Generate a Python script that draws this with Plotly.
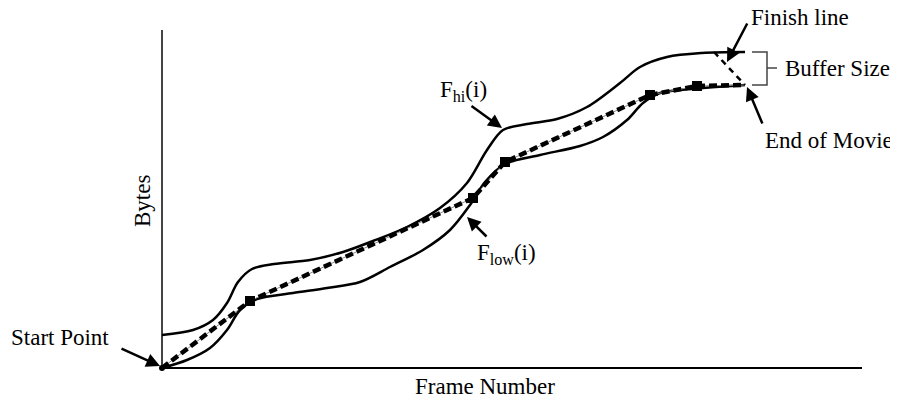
import plotly.graph_objects as go

# curve data (frame number, bytes) in arbitrary units
hi_frames = [0, 31, 51, 65, 76, 90, 112, 148, 181, 211, 245, 278, 305, 325, 341,
             365, 395, 425, 458, 478, 505, 540, 583]
hi_bytes = [33, 38, 48, 65, 86, 99, 104, 108, 116, 127, 141, 160, 185, 218, 238,
            244, 249, 261, 285, 301, 311, 315, 316]

low_frames = [0, 25, 48, 65, 78, 95, 131, 165, 198, 228, 261, 288, 308, 323, 343,
              378, 418, 441, 465, 481, 498, 530, 583]
low_bytes = [0, 8, 20, 38, 58, 69, 75, 80, 86, 101, 118, 138, 163, 186, 204,
             213, 222, 231, 248, 265, 275, 279, 283]

sched_frames = [0, 88, 311, 343, 488, 535, 583]
sched_bytes = [0, 67, 170, 206, 273, 282, 283]

finish_frames = [552, 583]
finish_bytes = [316, 283]

bracket_frames = [590, 605, 605, 590]
bracket_bytes = [316, 316, 283, 283]
tick_frames = [605, 615]
tick_bytes = [300, 300]

FONT = "Liberation Serif"

fig = go.Figure()

# axes
fig.add_trace(go.Scatter(x=[0, 0], y=[0, 338], mode="lines",
                         line=dict(color="#444", width=2), showlegend=False, hoverinfo="skip"))
fig.add_trace(go.Scatter(x=[0, 700], y=[0, 0], mode="lines",
                         line=dict(color="black", width=2), showlegend=False, hoverinfo="skip"))

# bounds
fig.add_trace(go.Scatter(x=hi_frames, y=hi_bytes, mode="lines", line_shape="spline",
                         line=dict(color="black", width=2.5, smoothing=0.9), showlegend=False))
fig.add_trace(go.Scatter(x=low_frames, y=low_bytes, mode="lines", line_shape="spline",
                         line=dict(color="black", width=2.5, smoothing=0.9), showlegend=False))

# schedule: thin line under thick dashes
fig.add_trace(go.Scatter(x=sched_frames, y=sched_bytes, mode="lines",
                         line=dict(color="#888", width=1), showlegend=False))
fig.add_trace(go.Scatter(x=sched_frames, y=sched_bytes, mode="lines",
                         line=dict(color="black", width=4.5, dash="8px,4px"), showlegend=False))
fig.add_trace(go.Scatter(x=sched_frames[1:-1], y=sched_bytes[1:-1], mode="markers",
                         marker=dict(symbol="square", size=10, color="black"), showlegend=False))
fig.add_trace(go.Scatter(x=sched_frames[:1], y=sched_bytes[:1], mode="markers",
                         marker=dict(symbol="circle", size=6, color="black"), showlegend=False))

# finish line and buffer bracket
fig.add_trace(go.Scatter(x=finish_frames, y=finish_bytes, mode="lines",
                         line=dict(color="black", width=2.5, dash="6px,5px"), showlegend=False))
fig.add_trace(go.Scatter(x=bracket_frames, y=bracket_bytes, mode="lines",
                         line=dict(color="#444", width=1.5), showlegend=False))
fig.add_trace(go.Scatter(x=tick_frames, y=tick_bytes, mode="lines",
                         line=dict(color="#444", width=1.5), showlegend=False))

labels = [
    ("Bytes", -20, 167, -90),
    ("Frame Number", 323, -18, 0),
    ("Start Point", -102, 31, 0),
    ("F<sub>hi</sub>(i)", 301, 277, 0),
    ("F<sub>low</sub>(i)", 344, 114, 0),
    ("Finish line", 638, 351, 0),
    ("Buffer Size", 675, 300, 0),
    ("End of Movie", 667, 228, 0),
]
for txt, x, y, ang in labels:
    fig.add_annotation(x=x, y=y, text=txt, showarrow=False, textangle=ang,
                       font=dict(family=FONT, size=23, color="black"))

arrows = [
    (-2, 2, -40, -18),
    (340, 240, -32, -23),
    (305, 151, 21, 21),
    (565, 306, 21, -40),
    (585, 281, 16, 38),
]
for x, y, ax, ay in arrows:
    fig.add_annotation(x=x, y=y, ax=ax, ay=ay, text="", showarrow=True,
                       arrowhead=2, arrowsize=1.1, arrowwidth=2.5, arrowcolor="black")

# the page body adds an 8px offset, so ranges are shifted to compensate
fig.update_layout(
    width=898, height=402,
    margin=dict(l=0, r=0, t=0, b=0),
    plot_bgcolor="white", paper_bgcolor="white",
    xaxis=dict(range=[-154, 744], visible=False, fixedrange=True),
    yaxis=dict(range=[-42, 360], visible=False, fixedrange=True),
    showlegend=False,
)

fig.write_html("out.html")
